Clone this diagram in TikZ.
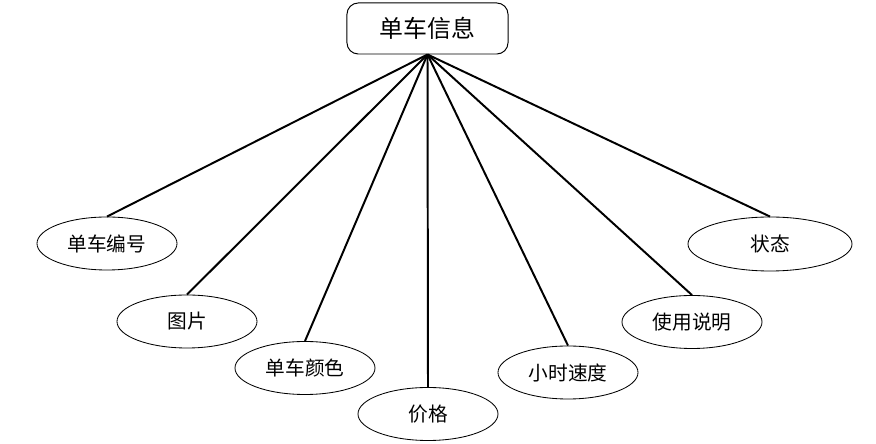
\documentclass[tikz,border=0pt]{standalone}
\usepackage{fontspec}
\setmainfont{Noto Sans CJK SC}
\usepackage{tikz}
\usetikzlibrary{shapes.geometric,positioning}

\begin{document}
\begin{tikzpicture}[
  x=0.025cm,y=-0.025cm,
  entity/.style={draw,rounded corners=8pt,minimum width=4.025cm,minimum height=1.275cm,
                 line width=0.7pt,font=\fontsize{17}{20}\selectfont,inner sep=2pt},
  attr/.style={draw,ellipse,minimum width=3.5cm,minimum height=1.325cm,
               line width=0.6pt,font=\fontsize{14}{16}\selectfont,inner sep=1pt},
  link/.style={line width=1.4pt}
]
\useasboundingbox (0,0) rectangle (876,444);

\node[entity] (bike) at (427.5,28.5) {单车信息};

\node[attr] (num)   at (107,243.5) {单车编号};
\node[attr] (pic)   at (187,321.5) {图片};
\node[attr] (color) at (305,368)   {单车颜色};
\node[attr] (price) at (428,414)   {价格};
\node[attr] (speed) at (568,372.5) {小时速度};
\node[attr] (usage) at (692,322)   {使用说明};
\node[attr,minimum width=4.1cm,minimum height=1.35cm] (state) at (770,244) {状态};

\foreach \a in {num,pic,color,price,speed,usage,state}
  \draw[link] (bike.south) -- (\a.north);
\end{tikzpicture}
\end{document}
